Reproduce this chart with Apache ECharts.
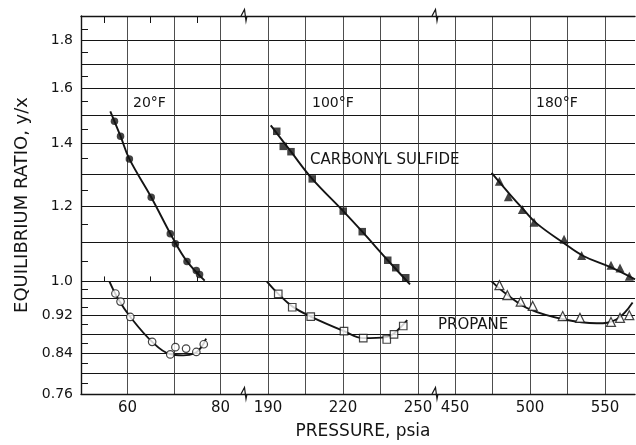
<!DOCTYPE html>
<html>
<head>
<meta charset="utf-8">
<script src="https://cdn.jsdelivr.net/npm/echarts@6/dist/echarts.min.js"></script>
<style>
  html, body { margin: 0; padding: 0; background: #fff; }
  #main { width: 636px; height: 445px; }
</style>
</head>
<body>
<div id="main"></div>
<script>
// measured points, pressure (psia) vs equilibrium ratio y/x
const cos20P = [57.2, 58.5, 60.4, 65.1, 69.2, 70.3, 72.8, 74.8, 75.5];
const cos20K = [1.478, 1.425, 1.348, 1.228, 1.123, 1.096, 1.050, 1.027, 1.017];
const pro20P = [57.4, 58.5, 60.6, 65.3, 69.2, 70.3, 72.6, 74.8, 76.4];
const pro20K = [0.971, 0.952, 0.917, 0.863, 0.837, 0.852, 0.849, 0.842, 0.858];

const cos100P = [193.5, 196.1, 199.2, 207.7, 220.1, 227.7, 237.9, 241.1, 245.1];
const cos100K = [1.442, 1.390, 1.372, 1.284, 1.187, 1.129, 1.053, 1.034, 1.009];
const pro100P = [194.1, 199.7, 207.1, 220.4, 228.1, 237.5, 240.4, 244.1];
const pro100K = [0.970, 0.939, 0.918, 0.886, 0.871, 0.868, 0.879, 0.897];

const cos180P = [479.6, 485.6, 494.9, 502.7, 522.7, 534.4, 554.0, 560.0, 566.2];
const cos180K = [1.277, 1.229, 1.192, 1.155, 1.108, 1.065, 1.040, 1.033, 1.013];
const pro180P = [479.6, 484.9, 493.8, 501.8, 521.8, 533.3, 554.0, 560.0, 566.2];
const pro180K = [0.991, 0.967, 0.952, 0.942, 0.919, 0.915, 0.906, 0.915, 0.921];

// drawn curves
const cos20CurveP = [56.3, 58.5, 60.4, 65.1, 69.8, 72.8, 76.6];
const cos20CurveK = [1.514, 1.425, 1.348, 1.228, 1.110, 1.050, 1.002];
const pro20CurveP = [56.1, 58.0, 60.6, 65.3, 69.0, 72.0, 74.4, 75.8, 76.9];
const pro20CurveK = [1.000, 0.958, 0.917, 0.863, 0.838, 0.835, 0.839, 0.851, 0.870];
const cos100CurveP = [191.1, 199.2, 207.7, 220.1, 227.7, 237.9, 246.8];
const cos100CurveK = [1.463, 1.372, 1.284, 1.187, 1.129, 1.053, 0.993];
const pro100CurveP = [189.5, 194.1, 199.7, 207.1, 220.4, 228.1, 237.5, 240.4, 245.7];
const pro100CurveK = [1.000, 0.970, 0.941, 0.918, 0.886, 0.871, 0.873, 0.881, 0.910];
const cos180CurveP = [474.4, 486.7, 495.6, 504.4, 522.2, 535.6, 554.4, 570.0];
const cos180CurveK = [1.303, 1.236, 1.192, 1.152, 1.099, 1.064, 1.034, 1.005];
const pro180CurveP = [474.4, 484.4, 500.0, 522.2, 544.4, 557.8, 568.4];
const pro180CurveK = [1.000, 0.969, 0.934, 0.912, 0.903, 0.912, 0.950];

// axes
const yGridVals = [0.76, 0.80, 0.84, 0.88, 0.92, 0.96, 1.0, 1.1, 1.2, 1.3, 1.4, 1.5, 1.6, 1.7, 1.8];
const yMinorVals = [0.78, 0.82, 0.86, 0.90, 0.94, 0.98, 1.05, 1.15, 1.25, 1.35, 1.45, 1.55, 1.65, 1.75, 1.85];
const yLabelVals = [0.76, 0.84, 0.92, 1.0, 1.2, 1.4, 1.6, 1.8];
const yLabelText = ['0.76', '0.84', '0.92', '1.0', '1.2', '1.4', '1.6', '1.8'];

const x20Grid = [60, 70, 80];
const x20Labels = [60, 80];
const x20Minor = [55, 65, 75];
const x100Grid = [190, 205, 220, 235, 250];
const x100Labels = [190, 220, 250];
const x180Grid = [450, 475, 500, 525, 550];
const x180Labels = [450, 500, 550];

const ink = '#141414';
const font = 'DejaVu Sans';
const lg = v => Math.log10(v);
const pts = (xs, ys) => xs.map((x, i) => [x, lg(ys[i])]);
const yMin = lg(0.76), yMax = lg(1.91);

const boxes = [
  {left: 81, width: 164, min: 50, max: 85.27},
  {left: 245, width: 191, min: 180.8, max: 257.2},
  {left: 436, width: 199, min: 437.33, max: 570}
];
const TOP = 16, H = 378;

function yLabel(v) {
  let best = 0;
  yLabelVals.forEach((t, i) => {
    if (Math.abs(lg(t) - v) < Math.abs(lg(yLabelVals[best]) - v)) best = i;
  });
  return yLabelText[best];
}

const grid = boxes.map(b => ({left: b.left, top: TOP, width: b.width, height: H}));
grid.push({left: boxes[0].left, top: TOP, width: boxes[0].width, height: H}); // minor ticks overlay

const xGrids = [x20Grid, x100Grid, x180Grid];
const xLabels = [x20Labels, x100Labels, x180Labels];
const xAxis = [];
boxes.forEach((b, i) => {
  xAxis.push({
    type: 'value', gridIndex: i, min: b.min, max: b.max, position: 'bottom',
    axisLine: {show: true, onZero: false, lineStyle: {color: ink, width: 1.4}},
    axisTick: {show: false, customValues: xGrids[i]},
    axisLabel: {customValues: xLabels[i], color: ink, fontSize: 15, fontFamily: font, margin: 7},
    splitLine: {show: true, lineStyle: {color: '#3a3a3a', width: 0.9}}
  });
});
boxes.forEach((b, i) => {
  xAxis.push({
    type: 'value', gridIndex: i, min: b.min, max: b.max, position: 'top',
    axisLine: {show: true, onZero: false, lineStyle: {color: ink, width: 1.4}},
    axisTick: {show: false}, axisLabel: {show: false}, splitLine: {show: false}
  });
});
// minor ticks on the 20F segment
['bottom', 'top'].forEach(pos => {
  xAxis.push({
    type: 'value', gridIndex: 3, min: boxes[0].min, max: boxes[0].max, position: pos,
    axisLine: {show: false},
    axisTick: {show: true, inside: true, length: pos === 'top' ? 7 : 5, customValues: x20Minor,
               lineStyle: {color: ink, width: 1}},
    axisLabel: {show: false}, splitLine: {show: false}
  });
});

const yAxis = boxes.map((b, i) => ({
  type: 'value', gridIndex: i, min: yMin, max: yMax, position: 'left',
  axisLine: {show: i === 0, onZero: false, lineStyle: {color: ink, width: 1.4}},
  axisTick: {show: false, customValues: yGridVals.map(lg)},
  axisLabel: {show: i === 0, customValues: yLabelVals.map(lg), formatter: yLabel,
              color: ink, fontSize: 14, fontFamily: font, margin: 8},
  splitLine: {show: true, lineStyle: {color: ink, width: 1.2}},
  name: i === 0 ? 'EQUILIBRIUM RATIO, y/x' : '',
  nameLocation: 'middle', nameGap: 50,
  nameTextStyle: {color: ink, fontSize: 18, fontFamily: font}
}));
yAxis.push({
  type: 'value', gridIndex: 3, min: yMin, max: yMax, position: 'left',
  axisLine: {show: false},
  axisTick: {show: true, inside: true, length: 7, customValues: yMinorVals.map(lg),
             lineStyle: {color: ink, width: 1}},
  axisLabel: {show: false}, splitLine: {show: false}
});

function curve(i, xs, ys) {
  return {type: 'line', xAxisIndex: i, yAxisIndex: i, data: pts(xs, ys), smooth: 0.4,
          showSymbol: false, silent: true, z: 3, lineStyle: {color: ink, width: 1.9}};
}
function marks(i, xs, ys, symbol, size, filled) {
  return {type: 'scatter', xAxisIndex: i, yAxisIndex: i, data: pts(xs, ys), symbol: symbol,
          symbolSize: size, z: 4,
          itemStyle: filled ? {color: ink} : {color: '#fff', borderColor: ink, borderWidth: 1.2}};
}

const series = [
  curve(0, cos20CurveP, cos20CurveK), marks(0, cos20P, cos20K, 'circle', 7.5, true),
  curve(0, pro20CurveP, pro20CurveK), marks(0, pro20P, pro20K, 'circle', 7.5, false),
  curve(1, cos100CurveP, cos100CurveK), marks(1, cos100P, cos100K, 'rect', 7.5, true),
  curve(1, pro100CurveP, pro100CurveK), marks(1, pro100P, pro100K, 'rect', 7.5, false),
  curve(2, cos180CurveP, cos180CurveK), marks(2, cos180P, cos180K, 'triangle', 9, true),
  curve(2, pro180CurveP, pro180CurveK), marks(2, pro180P, pro180K, 'triangle', 9, false)
];

// axis break marks at the segment joins
function zig(bx, y) {
  return {type: 'polyline', z: 10, silent: true,
          shape: {points: [[bx - 4, y], [bx - 0.5, y - 6.5], [bx + 1, y + 5], [bx + 2, y]]},
          style: {stroke: ink, lineWidth: 1.2, fill: null}};
}
function txt(s, x, y, size, align) {
  return {type: 'text', x: x, y: y, z: 10, silent: true,
          style: {text: s, fill: ink, font: size + 'px "' + font + '"',
                  textAlign: align || 'left', textVerticalAlign: 'middle'}};
}
const breaks = [boxes[1].left, boxes[2].left];
const graphic = [];
breaks.forEach(bx => { graphic.push(zig(bx, TOP)); graphic.push(zig(bx, TOP + H)); });
graphic.push(txt('20°F', 133, 103, 14));
graphic.push(txt('100°F', 312, 103, 14));
graphic.push(txt('180°F', 536, 103, 14));
graphic.push(txt('CARBONYL SULFIDE', 310, 160, 15));
graphic.push(txt('PROPANE', 438, 325, 15));
graphic.push(txt('PRESSURE, psia', 363, 432, 17, 'center'));

const chart = echarts.init(document.getElementById('main'));
chart.setOption({
  animation: false,
  backgroundColor: '#fff',
  grid: grid,
  xAxis: xAxis,
  yAxis: yAxis,
  series: series,
  graphic: graphic
});
</script>
</body>
</html>
